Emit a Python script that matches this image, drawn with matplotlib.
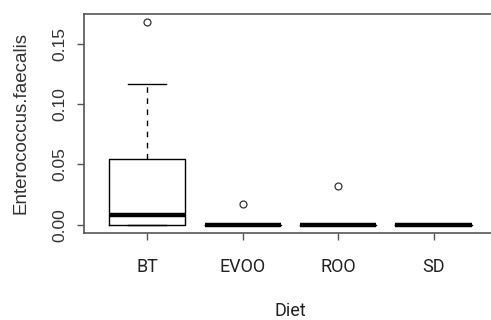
import matplotlib
matplotlib.use("Agg")
import matplotlib.pyplot as plt

# values
diets = ["BT", "EVOO", "ROO", "SD"]
q1 = [0.0, 0.0, 0.0, 0.0]
medians = [0.0078, 0.0, 0.0, 0.0]
q3 = [0.0545, 0.0, 0.0, 0.0]
whislo = [0.0, 0.0, 0.0, 0.0]
whishi = [0.1165, 0.0, 0.0, 0.0]
fliers = [[0.168], [0.017], [0.0323], []]

stats = []
for i in range(len(diets)):
    stats.append(dict(label=diets[i], med=medians[i], q1=q1[i], q3=q3[i],
                      whislo=whislo[i], whishi=whishi[i], fliers=fliers[i]))

fig = plt.figure(figsize=(4.91, 3.2), dpi=100)
ax = fig.add_axes([0.1717, 0.2725, 0.8397, 0.6838])

ax.bxp(stats, positions=[1, 2, 3, 4], widths=0.8, capwidths=0.4,
       boxprops=dict(color="black", linewidth=1.0),
       medianprops=dict(color="black", linewidth=3.2, solid_capstyle="butt"),
       whiskerprops=dict(color="black", linewidth=1.0, linestyle=(0, (4, 4))),
       capprops=dict(color="black", linewidth=1.0),
       flierprops=dict(marker="o", markersize=5, markerfacecolor="none",
                       markeredgecolor="#333333", markeredgewidth=0.9))

ax.set_xlim(0.34, 4.66)
ax.set_ylim(-0.0067, 0.1747)
ax.set_yticks([0.0, 0.05, 0.10, 0.15])
ax.set_yticklabels(["0.00", "0.05", "0.10", "0.15"], rotation=90, va="center",
                   fontsize=12.5, family="Liberation Sans", color="#333333")
ax.set_xticks([1, 2, 3, 4])
ax.set_xticklabels(diets, fontsize=13, family=["Roboto", "DejaVu Sans"],
                   color="#222222")

for s in ax.spines.values():
    s.set_color("#555555")
    s.set_linewidth(1.2)
ax.spines["right"].set_visible(False)

ax.tick_params(axis="both", length=5, width=1.0, color="#555555")
ax.tick_params(axis="x", pad=13)
ax.tick_params(axis="y", pad=7)

ax.set_xlabel("Diet", fontsize=13, family=["Roboto", "DejaVu Sans"],
              color="#222222", labelpad=19)
ax.set_ylabel("Enterococcus.faecalis", fontsize=13.5, family="Liberation Sans",
              color="#333333", labelpad=17)

fig.savefig("out.png", dpi=100)
